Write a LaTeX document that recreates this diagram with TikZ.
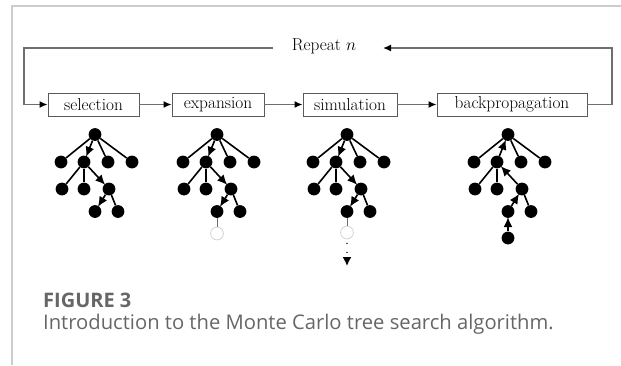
\documentclass[tikz,border=0pt]{standalone}
\usepackage{fontspec}
\newfontfamily\capfont{Open Sans}
\usetikzlibrary{arrows.meta}

\definecolor{framegray}{HTML}{CCCCCC}
\definecolor{flowgray}{HTML}{6E6E6E}
\definecolor{boxgray}{HTML}{5A5A5A}
\definecolor{capgray}{HTML}{666666}
\definecolor{ghost}{HTML}{D4D4D4}

\tikzset{
  stagefont/.style={font=\fontsize{17.3}{20}\selectfont},
  stagebox/.style={draw=boxgray, line width=0.9pt, minimum height=23pt,
    inner sep=0pt, stagefont},
  flow/.style={draw=flowgray, line width=1.4pt},
  flowtip/.style={-{Latex[length=8pt,width=7pt,color=black]}},
  tnode/.style={circle, fill=black, inner sep=0pt, minimum size=12.8pt},
  hollow/.style={circle, draw=ghost, line width=0.8pt, inner sep=0pt, minimum size=12.8pt},
  tedge/.style={draw=black, line width=1.6pt},
  tarrow/.style={tedge, -{Latex[length=10pt,width=9pt]}, shorten >=-1pt},
  thin/.style={draw=flowgray, line width=0.8pt},
  captitle/.style={anchor=base west, inner sep=0pt, text=capgray,
    font=\capfont\bfseries\fontsize{20}{24}\selectfont},
  captext/.style={anchor=base west, inner sep=0pt, text=capgray,
    font=\capfont\fontsize{20.2}{24}\selectfont},
}

% one search tree; #1 = name prefix, #2 = x of the root
\newcommand{\mctsnodes}[2]{%
  \node[tnode] (#1r)  at (#2,134.5) {};
  \node[tnode] (#1a)  at ({#2-34},162) {};
  \node[tnode] (#1b)  at ({#2-11},162) {};
  \node[tnode] (#1c)  at ({#2+13},162) {};
  \node[tnode] (#1d)  at ({#2+37},162) {};
  \node[tnode] (#1b1) at ({#2-33},189) {};
  \node[tnode] (#1b2) at ({#2-11},189) {};
  \node[tnode] (#1b3) at ({#2+14},189) {};
  \node[tnode] (#1e1) at ({#2+0},211.5) {};
  \node[tnode] (#1e2) at ({#2+23},211.5) {};
  \draw[tedge] (#1r) -- (#1a);
  \draw[tedge] (#1r) -- (#1c);
  \draw[tedge] (#1r) -- (#1d);
  \draw[tedge] (#1b) -- (#1b1);
  \draw[tedge] (#1b) -- (#1b2);
  \draw[tedge] (#1b3) -- (#1e2);
}
% the selected path, walked downwards
\newcommand{\mctsdown}[1]{%
  \draw[tarrow] (#1r) -- (#1b);
  \draw[tarrow] (#1b) -- (#1b3);
  \draw[tarrow] (#1b3) -- (#1e1);
}

\begin{document}
\begin{tikzpicture}[x=1pt,y=-1pt]
\useasboundingbox (0,0) rectangle (621,365);

% page frame
\draw[framegray, line width=1.4pt] (12,365) -- (12,6) -- (621,6);

% stages
\node[stagebox, minimum width=91pt]  (sel) at (93.5,104.5) {selection};
\node[stagebox, minimum width=92pt]  (exp) at (218,104.5)  {expansion};
\node[stagebox, minimum width=94pt]  (sim) at (350,104.5)  {simulation};
\node[stagebox, minimum width=150pt] (bp)  at (512,104.5)  {backpropagation};

\draw[flow, flowtip] (sel) -- (exp);
\draw[flow, flowtip] (exp) -- (sim);
\draw[flow, flowtip] (sim) -- (bp);

% repeat loop
\node[inner sep=0pt, stagefont] (rep) at (324,46.5) {Repeat $n$};
\coordinate (loopR)  at (612,48);
\coordinate (loopL)  at (24,48);
\coordinate (repIn)  at (383,48);
\coordinate (repOut) at (273,48);
\draw[flow, flowtip] (bp.east) -| (loopR) -- (repIn);
\draw[flow, flowtip] (repOut) -- (loopL) |- (sel.west);

% selection
\mctsnodes{s}{95}
\mctsdown{s}

% expansion
\mctsnodes{x}{217}
\mctsdown{x}
\node[hollow] (xf) at (217,233.5) {};
\draw[thin] (xe1) -- (xf);

% simulation
\mctsnodes{m}{347}
\mctsdown{m}
\node[hollow] (mf) at (347,232.5) {};
\draw[thin] (me1) -- (mf);
\coordinate (mend) at (347,266);
\draw[line width=1.6pt, line cap=round, dash pattern=on 0pt off 9pt,
      dash phase=-4pt] (mf.south) -- (347,257);
\draw[tedge, -{Latex[length=9pt,width=9pt]}] (347,258) -- (mend);

% backpropagation
\mctsnodes{p}{508}
\node[tnode] (pf) at (508,238) {};
\draw[tarrow] (pf) -- (pe1);
\draw[tarrow] (pe1) -- (pb3);
\draw[tarrow] (pb3) -- (pb);
\draw[tarrow] (pb) -- (pr);

% caption
\node[captitle] (cap1) at (43,307) {FIGURE 3};
\node[captext]  (cap2) at (43,329) {Introduction to the Monte Carlo tree search algorithm.};
\end{tikzpicture}
\end{document}
